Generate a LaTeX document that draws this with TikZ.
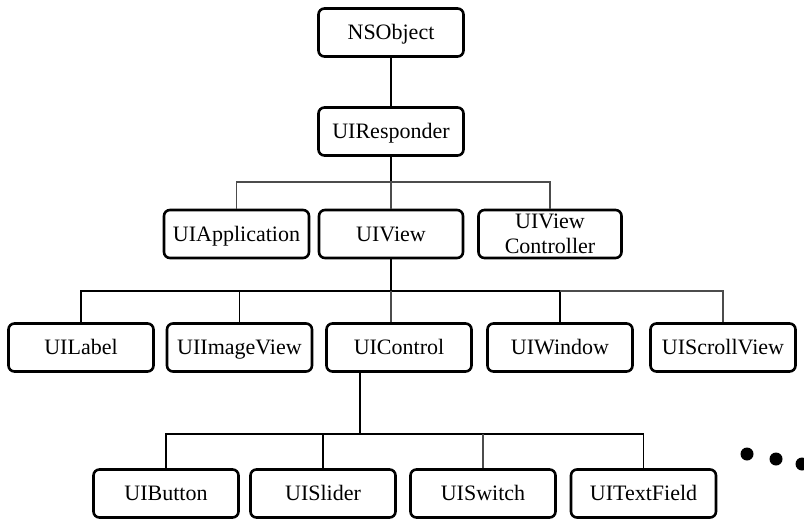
\documentclass[tikz,border=0pt]{standalone}
\usepackage{fontspec}
\setmainfont{Liberation Serif}
\begin{document}
\begin{tikzpicture}[x=1pt, y=-1pt]
        \tikzstyle{every node}=[draw, rounded corners=6pt, line width=2.6pt, minimum width=145pt, minimum height=48pt, inner sep=0pt, align=center, text height=17pt, text depth=3pt, font=\fontsize{22}{25}\selectfont]
        \tikzstyle{thick link}=[line width=1.9pt]
        \tikzstyle{thin link}=[line width=1.1pt, black!70]
        \useasboundingbox (0, 0) rectangle (804, 522);

        \path (391, 32.5) node (nso) {NSObject};
        \path (391, 131.5) node (resp) {UIResponder};

        \path (236.5, 234) node (app) {UIApplication};
        \path (391, 234) node[minimum width=144pt] (vw) {UIView};
        \path (550, 234) node[minimum width=143pt, text height=, text depth=] (vctl) {UIView\\Controller};

        \foreach \x/\n/\t in {81/lbl/UILabel, 239.5/img/UIImageView, 399/ctl/UIControl, 560/win/UIWindow, 723/scr/UIScrollView}
        {
          \path (\x, 347.5) node (\n) {\t};
        }

        \foreach \x/\n/\t in {166/btn/UIButton, 323/sld/UISlider, 483/swt/UISwitch, 643.5/txt/UITextField}
        {
          \path (\x, 493.5) node (\n) {\t};
        }

        \coordinate (b1) at (391, 182);
        \coordinate (b2) at (391, 291);
        \coordinate (b3) at (360, 434);

        \draw [thick link]
          (nso.south) -- (resp.north)
          (resp.south) -- (b1);
        \draw [thin link]
          (app.north) |- (b1)
          (vctl.north) |- (b1)
          (b1) -- (vw.north);

        \draw [thick link]
          (vw.south) -- (b2)
          (lbl.north) |- (b2)
          (img.north) -- (img.north |- b2)
          (win.north) |- (b2);
        \draw [thin link]
          (scr.north) |- (win.north |- b2)
          (b2) -- (b2 |- ctl.north);

        \draw [thick link]
          (b3 |- ctl.south) -- (b3)
          (btn.north) |- (b3)
          (sld.north) -- (sld.north |- b3)
          (txt.north) |- (b3);
        \draw [thin link]
          (swt.north) -- (swt.north |- b3);

        \fill (747, 454) circle (6.5pt)
              (776, 459) circle (6.5pt)
              (802, 464) circle (6.5pt);
      \end{tikzpicture}
\end{document}
